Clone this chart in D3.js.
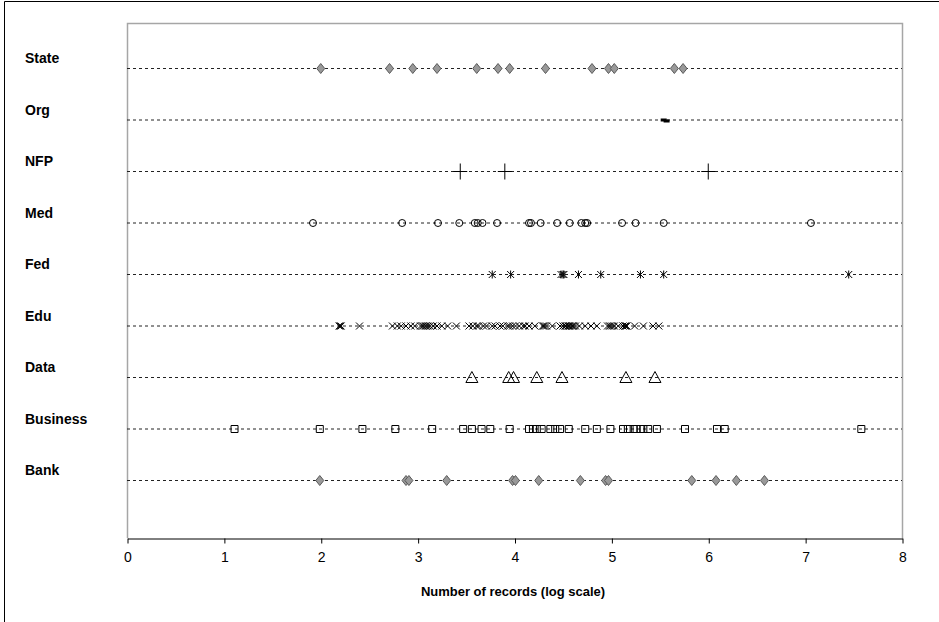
<!DOCTYPE html>
<html>
<head>
<meta charset="utf-8">
<script src="https://cdn.jsdelivr.net/npm/d3@7"></script>
<style>
  html, body { margin: 0; padding: 0; background: #fff; }
  svg { display: block; }
</style>
</head>
<body>
<svg id="chart" width="939" height="622"></svg>
<script>
// ---- data (log10 of number of records) ----
const categories = ["Bank", "Business", "Data", "Edu", "Fed", "Med", "NFP", "Org", "State"];
const xTicks = [0, 1, 2, 3, 4, 5, 6, 7, 8];
const xTitle = "Number of records (log scale)";

const stateValues = [2.00, 2.71, 2.95, 3.20, 3.61, 3.83, 3.95, 4.32, 4.80, 4.97, 5.03, 5.65, 5.74];
const orgValues = [5.54, 5.57];
const nfpValues = [3.44, 3.90, 6.00];
const medValues = [1.92, 2.84, 3.21, 3.43, 3.59, 3.62, 3.67, 3.82, 4.15, 4.17, 4.27, 4.44, 4.57, 4.69, 4.73, 4.75, 5.11, 5.25, 5.54, 7.06];
const fedValues = [3.77, 3.96, 4.48, 4.50, 4.51, 4.66, 4.89, 5.30, 5.54, 7.45];
const eduValues = [2.19, 2.20, 2.21, 2.40, 2.74, 2.79, 2.83, 2.88, 2.93, 2.97, 3.03, 3.05, 3.06, 3.08, 3.09, 3.11, 3.13, 3.16, 3.20, 3.25, 3.31, 3.40, 3.53, 3.57, 3.61, 3.63, 3.68, 3.71, 3.77, 3.80, 3.85, 3.88, 3.93, 3.95, 3.98, 4.01, 4.05, 4.09, 4.11, 4.15, 4.21, 4.29, 4.30, 4.31, 4.33, 4.39, 4.47, 4.50, 4.52, 4.53, 4.55, 4.56, 4.57, 4.59, 4.60, 4.61, 4.63, 4.67, 4.73, 4.79, 4.85, 4.96, 4.98, 4.99, 5.01, 5.03, 5.07, 5.12, 5.14, 5.15, 5.16, 5.24, 5.33, 5.43, 5.49];
const dataValues = [3.56, 3.94, 3.99, 4.23, 4.49, 5.15, 5.45];
const businessValues = [1.11, 1.99, 2.43, 2.77, 3.15, 3.47, 3.56, 3.66, 3.75, 3.95, 4.15, 4.19, 4.23, 4.28, 4.37, 4.42, 4.47, 4.56, 4.73, 4.85, 4.99, 5.12, 5.17, 5.23, 5.26, 5.30, 5.33, 5.38, 5.47, 5.76, 6.09, 6.17, 7.58];
const bankValues = [1.99, 2.88, 2.91, 3.30, 3.98, 4.01, 4.25, 4.68, 4.94, 4.97, 5.83, 6.08, 6.29, 6.58];

const seriesValues = {
  State: stateValues, Org: orgValues, NFP: nfpValues, Med: medValues, Fed: fedValues,
  Edu: eduValues, Data: dataValues, Business: businessValues, Bank: bankValues
};
const seriesMarker = {
  State: "diamond", Org: "dash", NFP: "plus", Med: "circle", Fed: "star",
  Edu: "cross", Data: "triangle", Business: "square", Bank: "diamond"
};

// ---- layout ----
const svg = d3.select("#chart");
const pLeft = 127, pRight = 902, pTop = 23, pBottom = 538;
const x = d3.scaleLinear().domain([0, 8]).range([pLeft, pRight]);
const y = d3.scalePoint().domain(categories).range([480, 68]);
const font = "'Liberation Sans', Arial, sans-serif";

// outer frame (left & top edges visible)
svg.append("path").attr("d", "M4.5,622 L4.5,1.5 L939,1.5")
  .attr("fill", "none").attr("stroke", "#000").attr("stroke-width", 1);

// plot area border (gray)
svg.append("path")
  .attr("d", `M${pLeft + 0.5},${pBottom} L${pLeft + 0.5},${pTop + 0.5} L${pRight + 0.5},${pTop + 0.5} L${pRight + 0.5},${pBottom}`)
  .attr("fill", "none").attr("stroke", "#a6a6a6").attr("stroke-width", 1.5);

// dashed row lines
svg.append("g").selectAll("line").data(categories).join("line")
  .attr("x1", pLeft).attr("x2", pRight)
  .attr("y1", d => y(d) + 0.5).attr("y2", d => y(d) + 0.5)
  .attr("stroke", "#222").attr("stroke-width", 1)
  .attr("stroke-dasharray", "3,3");

// x axis
const xAxis = d3.axisBottom(x).tickValues(xTicks).tickFormat(d3.format("d"))
  .tickSize(5).tickSizeOuter(0).tickPadding(9);
const ax = svg.append("g").attr("transform", `translate(0.5,${pBottom + 0.5})`).call(xAxis);
ax.select(".domain").attr("stroke", "#000").attr("stroke-width", 1);
ax.selectAll(".tick line").attr("stroke", "#000");
ax.selectAll(".tick text").attr("font-family", font).attr("font-size", 14).attr("fill", "#000");

// axis title
svg.append("text").attr("x", 513).attr("y", 596).attr("text-anchor", "middle")
  .attr("font-family", font).attr("font-size", 13).attr("font-weight", "bold")
  .attr("fill", "#000").text(xTitle);

// category labels
svg.append("g").selectAll("text").data(categories).join("text")
  .attr("x", 25).attr("y", d => y(d) - 5)
  .attr("font-family", font).attr("font-size", 14).attr("font-weight", "bold")
  .attr("fill", "#000").text(d => d);

// markers
const markerPaths = {
  diamond: "M0,-5L4,0L0,5L-4,0Z",
  circle: "M3.5,0A3.5,3.5 0 1,1 -3.5,0A3.5,3.5 0 1,1 3.5,0Z",
  square: "M-3.5,-3.5H3.5V3.5H-3.5Z",
  triangle: "M0,-6L6,5L-6,5Z",
  plus: "M-7,0H7M0,-8V8",
  cross: "M-3.5,-3.5L3.5,3.5M-3.5,3.5L3.5,-3.5",
  star: "M-3.5,-3.5L3.5,3.5M-3.5,3.5L3.5,-3.5M0,-4V4",
  dash: "M-3,-1.5H3V1.5H-3Z"
};
const markerStyle = {
  diamond: { fill: "#999", stroke: "#5a5a5a", w: 1 },
  circle: { fill: "none", stroke: "#000", w: 1 },
  square: { fill: "none", stroke: "#000", w: 1 },
  triangle: { fill: "none", stroke: "#000", w: 1 },
  plus: { fill: "none", stroke: "#000", w: 1 },
  cross: { fill: "none", stroke: "#000", w: 1 },
  star: { fill: "none", stroke: "#000", w: 1 },
  dash: { fill: "#000", stroke: "none", w: 0 }
};

const points = [];
categories.forEach(c => seriesValues[c].forEach(v => points.push({ cat: c, v, m: seriesMarker[c] })));

svg.append("g").selectAll("path").data(points).join("path")
  .attr("transform", (d, i) => `translate(${x(d.v)},${y(d.cat) + 0.5 + (d.m === "dash" && d.v > 5.55 ? 1 : 0)})`)
  .attr("d", d => markerPaths[d.m])
  .attr("fill", d => markerStyle[d.m].fill)
  .attr("stroke", d => markerStyle[d.m].stroke)
  .attr("stroke-width", d => markerStyle[d.m].w);
</script>
</body>
</html>
